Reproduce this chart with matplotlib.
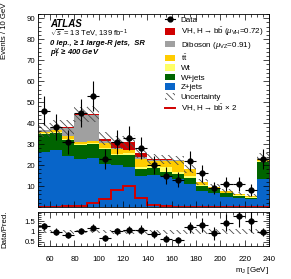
import numpy as np
import matplotlib
matplotlib.use('Agg')
import matplotlib.pyplot as plt
from matplotlib.patches import Patch
from matplotlib.lines import Line2D
from matplotlib.ticker import MultipleLocator, FixedLocator

plt.rcParams['font.family'] = ['Liberation Sans', 'DejaVu Sans']
plt.rcParams['mathtext.fontset'] = 'custom'
plt.rcParams['mathtext.rm'] = 'Liberation Sans'
plt.rcParams['mathtext.it'] = 'Liberation Sans:italic'
plt.rcParams['mathtext.bf'] = 'Liberation Sans:bold:italic'
plt.rcParams['hatch.linewidth'] = 0.6

# bins in m_J (GeV)
edges = np.arange(50, 250, 10)
centers = edges[:-1] + 5

# observed events
data = np.array([46, 38, 31, 45, 53, 23, 31, 33, 28, 20, 15, 13, 22, 16, 9, 11, 11, 8, 23])

# stacked backgrounds / signal (bottom -> top)
zjets = [26.0, 27.4, 24.3, 22.8, 23.3, 20.5, 20.0, 19.3, 14.7, 15.1, 14.7, 13.5, 11.1, 7.5, 6.8, 5.0, 4.2, 3.6, 13.3]
wjets = [9.0, 8.0, 7.6, 6.7, 6.5, 7.2, 4.8, 5.5, 3.6, 3.7, 2.2, 2.4, 2.8, 2.5, 1.8, 1.5, 1.2, 0.9, 8.0]
wt = [0.3, 0.5, 0.5, 0.5, 0.5, 0.6, 0.7, 0.8, 0.6, 0.8, 2.0, 1.0, 0.8, 0.6, 0.4, 0.4, 0.3, 0.3, 0.5]
ttbar = [0.5, 1.0, 1.4, 1.1, 1.2, 2.2, 2.0, 1.5, 4.2, 2.4, 3.2, 5.0, 3.2, 1.2, 0.6, 0.6, 0.4, 0.4, 1.2]
diboson = [1.0, 1.0, 4.0, 12.8, 12.3, 0.8, 0.5, 0.3, 0.8, 0.5, 0.5, 0.3, 0.2, 0.2, 0.1, 0.1, 0.1, 0.1, 0.3]
vh = [0.05, 0.05, 0.1, 0.3, 0.5, 1.3, 2.8, 3.6, 1.8, 0.3, 0.1, 0.05, 0.05, 0.05, 0.05, 0.05, 0.05, 0.05, 0.1]

# VH x 2 overlay
vh_x2 = [0.2, 0.2, 0.3, 0.6, 1.9, 3.9, 7.9, 10.0, 4.4, 0.8, 0.3, 0.2, 0.2, 0.1, 0.1, 0.1, 0.1, 0.1, 0.2]

# relative uncertainty of the prediction
rel_unc = np.array([0.09, 0.09, 0.10, 0.08, 0.09, 0.09, 0.10, 0.10, 0.10, 0.10, 0.10, 0.10,
                    0.11, 0.12, 0.12, 0.12, 0.12, 0.12, 0.10])

comps = [zjets, wjets, wt, ttbar, diboson, vh]
colors = ['#0865c9', '#006400', '#ffff66', '#ffcc00', '#a0a0a0', '#d00000']
HATCH = '\\\\\\\\\\'
HCOL = '#4a4a4a'

fig = plt.figure(figsize=(2.91, 2.79), dpi=100)
ax = fig.add_axes([38/291, 1-207/279, 231/291, 193/279])
rax = fig.add_axes([38/291, 1-246/279, 231/291, 34/279])

bottom = np.zeros(len(centers))
for vals, c in zip(comps, colors):
    ax.bar(centers, vals, bottom=bottom, width=10, color=c, linewidth=0)
    bottom = bottom + np.array(vals)
total = bottom

ax.bar(centers, 2*rel_unc*total, bottom=total*(1-rel_unc), width=10, fill=False,
       hatch=HATCH, edgecolor=HCOL, linewidth=0)
ax.stairs(vh_x2, edges, color='#d00000', lw=1.4)
ax.errorbar(centers, data, xerr=5, yerr=np.sqrt(data), fmt='o', color='k',
            ms=3.5, elinewidth=0.8, capsize=0)

ax.set_xlim(50, 240)
ax.set_ylim(0, 92)
ax.yaxis.set_major_locator(FixedLocator(np.arange(10, 100, 10)))
ax.yaxis.set_minor_locator(MultipleLocator(2))
ax.xaxis.set_major_locator(MultipleLocator(20))
ax.xaxis.set_minor_locator(MultipleLocator(5))
ax.tick_params(labelbottom=False)

# ratio panel
ratio = data / total
rax.bar(centers, 2*rel_unc, bottom=1-rel_unc, width=10, fill=False,
        hatch=HATCH, edgecolor=HCOL, linewidth=0)
rax.errorbar(centers, ratio, xerr=5, yerr=np.sqrt(data)/total, fmt='o', color='k',
             ms=3.5, elinewidth=0.8, capsize=0)
rax.set_xlim(50, 240)
rax.set_ylim(0.3, 1.95)
rax.set_yticks([0.5, 1, 1.5])
rax.set_yticklabels(['0.5', '1', '1.5'])
rax.yaxis.set_minor_locator(MultipleLocator(0.1))
rax.xaxis.set_major_locator(MultipleLocator(20))
rax.xaxis.set_minor_locator(MultipleLocator(5))

for a in (ax, rax):
    a.tick_params(which='both', direction='in', top=True, right=True, width=0.5, labelsize=5.6, pad=2)
    a.tick_params(which='major', length=4)
    a.tick_params(which='minor', length=2)
    for s in a.spines.values():
        s.set_linewidth(0.6)
rax.tick_params(axis='x', pad=7)

ax.set_ylabel('Events / 10 GeV', fontsize=5.6, loc='top')
ax.yaxis.set_label_coords(-0.13, 1.06)
rax.set_ylabel('Data/Pred.', fontsize=5.6)
rax.yaxis.set_label_coords(-0.13, 0.5)
rax.set_xlabel(r'm$_{\mathrm{J}}$ [GeV]', fontsize=5.8, loc='right')
rax.xaxis.set_label_coords(1.0, -0.55)

tx = 0.052
ax.text(tx, 0.948, 'ATLAS', transform=ax.transAxes, fontsize=7, fontweight='bold',
        fontstyle='italic', va='center')
ax.text(tx, 0.896, r'$\sqrt{s}$ = 13 TeV, 139 fb$^{-1}$', transform=ax.transAxes,
        fontsize=5.5, va='center')
ax.text(tx, 0.846, u'0 lep., \u2265 1 large-R jets,  SR', transform=ax.transAxes,
        fontsize=5.5, fontstyle='italic', fontweight='bold', va='center')
ax.text(tx, 0.794, r'$\mathbf{p}_{\mathbf{T}}^{\mathbf{V}}$' + u' \u2265 400 GeV', transform=ax.transAxes,
        fontsize=5.5, fontstyle='italic', fontweight='bold', va='center')

handles = [
    Line2D([], [], color='k', marker='o', ms=3.5, lw=0.8),
    Patch(facecolor=colors[5]),
    Patch(facecolor=colors[4]),
    Patch(facecolor=colors[3]),
    Patch(facecolor=colors[2]),
    Patch(facecolor=colors[1]),
    Patch(facecolor=colors[0]),
    Patch(facecolor='white', edgecolor=HCOL, hatch=HATCH, linewidth=0),
    Line2D([], [], color='#d00000', lw=1.4),
]
labels = [
    'Data',
    r'VH, H$\rightarrow$b$\bar{\mathrm{b}}$ ($\mu_{\mathrm{VH}}$=0.72)',
    r'Diboson ($\mu_{\mathrm{VZ}}$=0.91)',
    r'$\mathrm{t\bar{t}}$',
    'Wt',
    'W+jets',
    'Z+jets',
    'Uncertainty',
    r'VH, H$\rightarrow$b$\bar{\mathrm{b}}$ $\times$ 2',
]
ax.legend(handles, labels, loc='upper left', bbox_to_anchor=(0.55, 0.988), frameon=False,
          fontsize=5.8, handlelength=1.25, handleheight=0.9, labelspacing=0.18,
          handletextpad=0.7, borderaxespad=0, borderpad=0)

fig.savefig('out.png', dpi=100)
